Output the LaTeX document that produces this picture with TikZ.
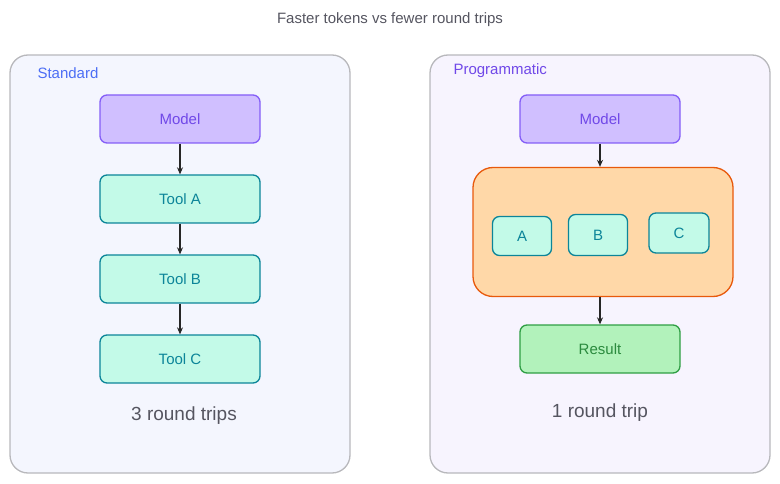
\documentclass[tikz,border=0pt]{standalone}
\usepackage{fontspec}
\setmainfont{Liberation Sans}
\usetikzlibrary{arrows.meta}
\definecolor{contS}{HTML}{B8B8BC}
\definecolor{fillL}{HTML}{F4F6FE}
\definecolor{fillR}{HTML}{F7F4FE}
\definecolor{modF}{HTML}{D0BFFF}
\definecolor{modS}{HTML}{845EF7}
\definecolor{modT}{HTML}{7048E8}
\definecolor{toolF}{HTML}{C3FAE8}
\definecolor{toolS}{HTML}{0C8599}
\definecolor{orF}{HTML}{FFD8A8}
\definecolor{orS}{HTML}{E8590C}
\definecolor{resF}{HTML}{B2F2BB}
\definecolor{resS}{HTML}{2F9E44}
\definecolor{resT}{HTML}{2B8A3E}
\definecolor{labB}{HTML}{4C6EF5}
\definecolor{labP}{HTML}{7048E8}
\definecolor{txt}{HTML}{555560}
\begin{document}
\begin{tikzpicture}[x=1pt,y=-1pt,
  nf/.style={font=\fontsize{15}{18}\selectfont},
  box/.style={draw, line width=1.3pt, rounded corners=7pt, inner sep=0pt, nf},
  model/.style={box, fill=modF, draw=modS, text=modT},
  tool/.style={box, fill=toolF, draw=toolS, text=toolS},
  arr/.style={-{Stealth[length=7pt,width=6pt]}, line width=1.1pt, draw=black!85}]
\useasboundingbox (0,0) rectangle (780,484);
\node[font=\fontsize{15}{18}\selectfont, text=txt] (title) at (390,20) {Faster tokens vs fewer round trips};
\draw[contS, line width=1.3pt, fill=fillL, rounded corners=18pt] (10,55) rectangle (350,473);
\draw[contS, line width=1.3pt, fill=fillR, rounded corners=18pt] (430,55) rectangle (770,473);
\node[anchor=west, text=labB, nf] (ls) at (34,73) {Standard};
\node[anchor=west, text=labP, nf] (lp) at (450,71) {Programmatic};
\node[model, minimum width=160pt, minimum height=48pt] (m1) at (180,119) {Model};
\node[tool, minimum width=160pt, minimum height=48pt] (ta) at (180,199) {Tool A};
\node[tool, minimum width=160pt, minimum height=48pt] (tb) at (180,279) {Tool B};
\node[tool, minimum width=160pt, minimum height=48pt] (tc) at (180,359) {Tool C};
\draw[arr] (m1) -- (ta);
\draw[arr] (ta) -- (tb);
\draw[arr] (tb) -- (tc);
\node[text=txt, font=\fontsize{19}{22}\selectfont] (l3) at (184,416) {3 round trips};
\node[model, minimum width=160pt, minimum height=48pt] (m2) at (600,119) {Model};
\node[box, fill=orF, draw=orS, rounded corners=20pt, minimum width=260pt, minimum height=129pt] (orb) at (603,232) {};
\node[tool, minimum width=59pt, minimum height=39pt] (a) at (522,236) {A};
\node[tool, minimum width=59pt, minimum height=41pt] (b) at (598,235) {B};
\node[tool, minimum width=60pt, minimum height=40pt] (c) at (679,233) {C};
\node[box, fill=resF, draw=resS, text=resT, minimum width=160pt, minimum height=48pt] (res) at (600,349) {Result};
\draw[arr] (m2) -- (m2 |- orb.north);
\draw[arr] (orb.south -| res) -- (res);
\node[text=txt, font=\fontsize{19}{22}\selectfont] (l1) at (600,413) {1 round trip};
\end{tikzpicture}
\end{document}
